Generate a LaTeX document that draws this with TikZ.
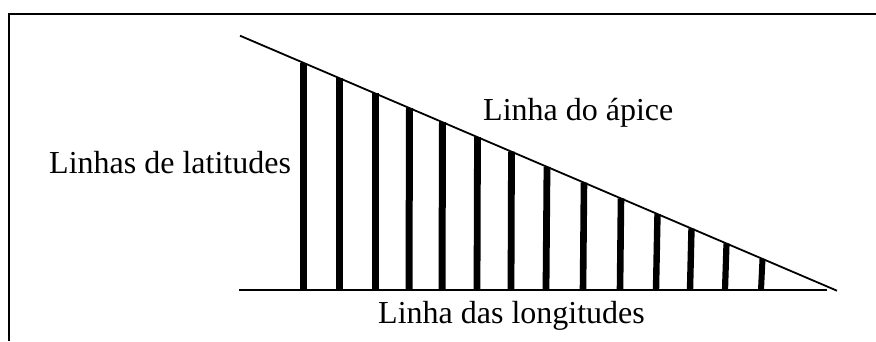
\documentclass[tikz,border=0pt]{standalone}
\usepackage{fontspec}
\setmainfont{Liberation Serif}
\begin{document}
\begin{tikzpicture}[x=1pt,y=-1pt,
  lbl/.style={inner sep=0pt,anchor=base west,font=\fontsize{32}{38}\selectfont},
  bar/.style={line width=6.6pt,line cap=butt}]
\useasboundingbox (0,0) rectangle (876,341);
% frame
\draw[line width=2pt] (9,341) -- (9,14) -- (876,14);
% apex line and base line
\coordinate (A) at (240,35.7);
\coordinate (B) at (837,290.7);
\coordinate (C) at (239,290);
\coordinate (D) at (827,290);
\draw[line width=1.8pt] (A) -- (B);
\draw[line width=1.5pt] (C) -- (D);
% latitude bars
\foreach \x/\t/\w in {303/0/7,339/0/7,375/0/7,409/0.5/7,442/0.5/7,477/0.5/6.8,511/0.5/6.8,546/1/6.8,583/1/6.6,620/1/6.6,656/1.5/6.4,690/1.5/6.4,725/1.5/6.2,761/1.5/6}{
  \pgfmathsetmacro\xt{\x+\t}
  \pgfmathsetmacro\yt{35.7+(\xt-240)*0.42714}
  \draw[bar,line width=\w pt] (\x,290) -- (\xt,\yt);
}
% labels
\node[lbl] (lat) at (49,173) {Linhas de latitudes};
\node[lbl] (apx) at (483,120) {Linha do ápice};
\node[lbl] (lon) at (378,323) {Linha das longitudes};
\end{tikzpicture}
\end{document}
